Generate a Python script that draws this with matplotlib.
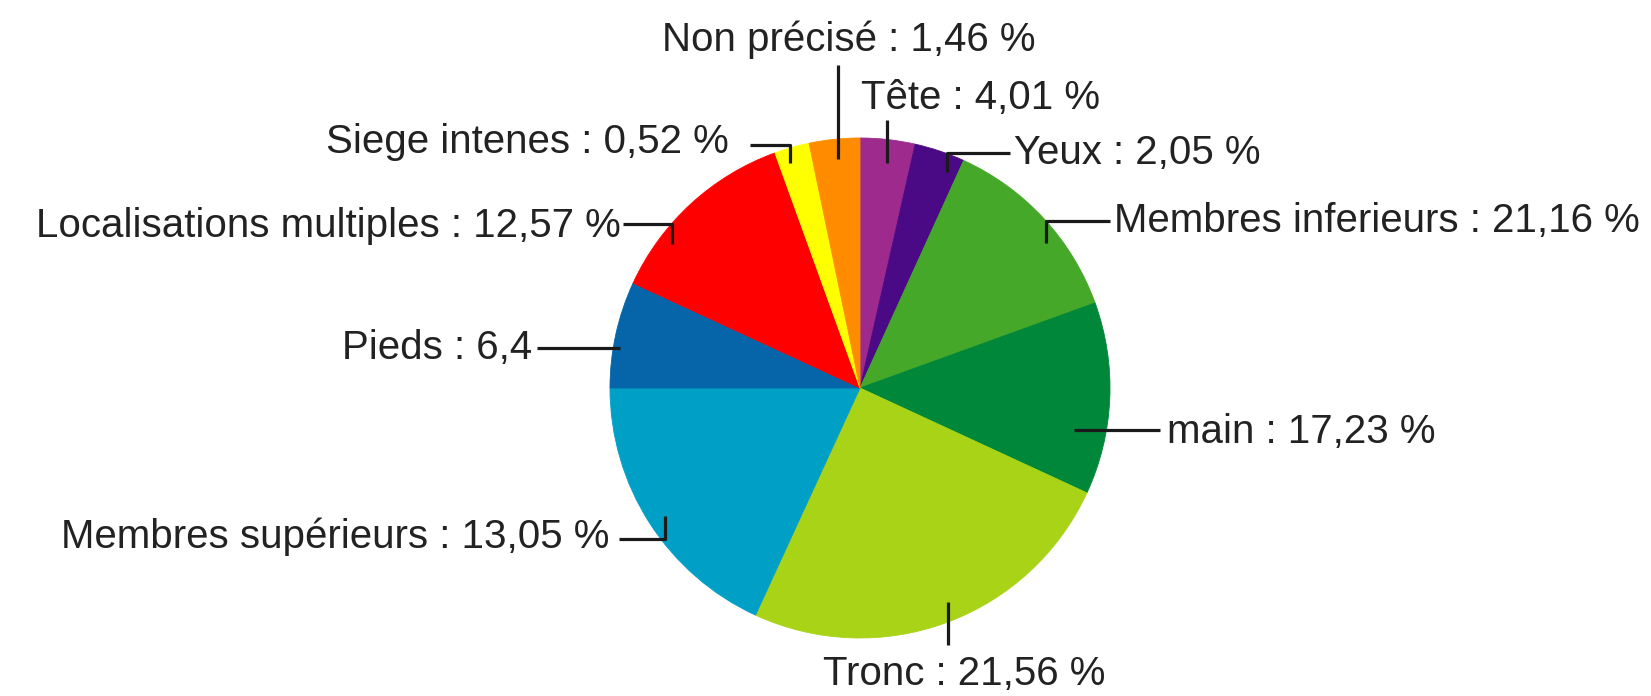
import matplotlib.pyplot as plt

# Slices, clockwise from 12 o'clock
categories = ["Tête", "Yeux", "Membres inferieurs", "main", "Tronc",
              "Membres supérieurs", "Pieds", "Localisations multiples",
              "Siege intenes", "Non précisé"]
value_labels = ["4,01 %", "2,05 %", "21,16 %", "17,23 %", "21,56 %",
                "13,05 %", "6,4", "12,57 %", "0,52 %", "1,46 %"]
# slice sizes as drawn in the picture (degrees)
slice_degrees = [12.75, 11.75, 45.6, 44.7, 89.9, 65.3, 24.8, 45.3, 8.15, 11.75]
colors = ["#9e2a8e", "#4a0a85", "#45a829", "#00873a", "#a8d317",
          "#00a0c6", "#0565a8", "#ff0000", "#ffff00", "#ff8c00"]

W, H = 1651, 696


def Y(y):
    # image rows -> data y
    return H - y


# label anchor (x, y, ha) and leader polyline, in image pixels
text_pos = [(861, 98, "left"), (1014, 153, "left"), (1114, 221, "left"),
            (1167, 432, "left"), (964, 674, "center"), (609, 537, "right"),
            (532, 348, "right"), (621, 226, "right"), (729, 142, "right"),
            (849, 40, "center")]
leaders = [
    [(887, 120), (887, 163)],
    [(1010, 153), (947, 153), (947, 172)],
    [(1110, 221), (1046, 221), (1046, 243)],
    [(1160, 430), (1074, 430)],
    [(948, 645), (948, 602)],
    [(619, 539), (665, 539), (665, 516)],
    [(537, 348), (620, 348)],
    [(623, 224), (672, 224), (672, 244)],
    [(750, 145), (790, 145), (790, 163)],
    [(838, 65), (838, 159)],
]

fig = plt.figure(figsize=(W / 100, H / 100), dpi=100)
ax = fig.add_axes([0, 0, 1, 1])

wedges, _ = ax.pie(slice_degrees, colors=colors, startangle=90, counterclock=False,
                   center=(860, Y(388)), radius=250)
for w, c in zip(wedges, colors):
    w.set_edgecolor(c)
    w.set_linewidth(0.6)

for name, val, (tx, ty, ha), pts in zip(categories, value_labels, text_pos, leaders):
    xs = [p[0] for p in pts]
    ys = [Y(p[1]) for p in pts]
    ax.plot(xs, ys, color="#1a1a1a", lw=2.3, solid_capstyle="butt")
    ax.text(tx, Y(ty), f"{name} : {val}", ha=ha, va="center",
            fontsize=29, color="#222222",
            family=["Liberation Sans", "DejaVu Sans"])

ax.set_xlim(0, W)
ax.set_ylim(0, H)
ax.set_aspect("equal")
ax.axis("off")

plt.savefig("out.png", dpi=100)
